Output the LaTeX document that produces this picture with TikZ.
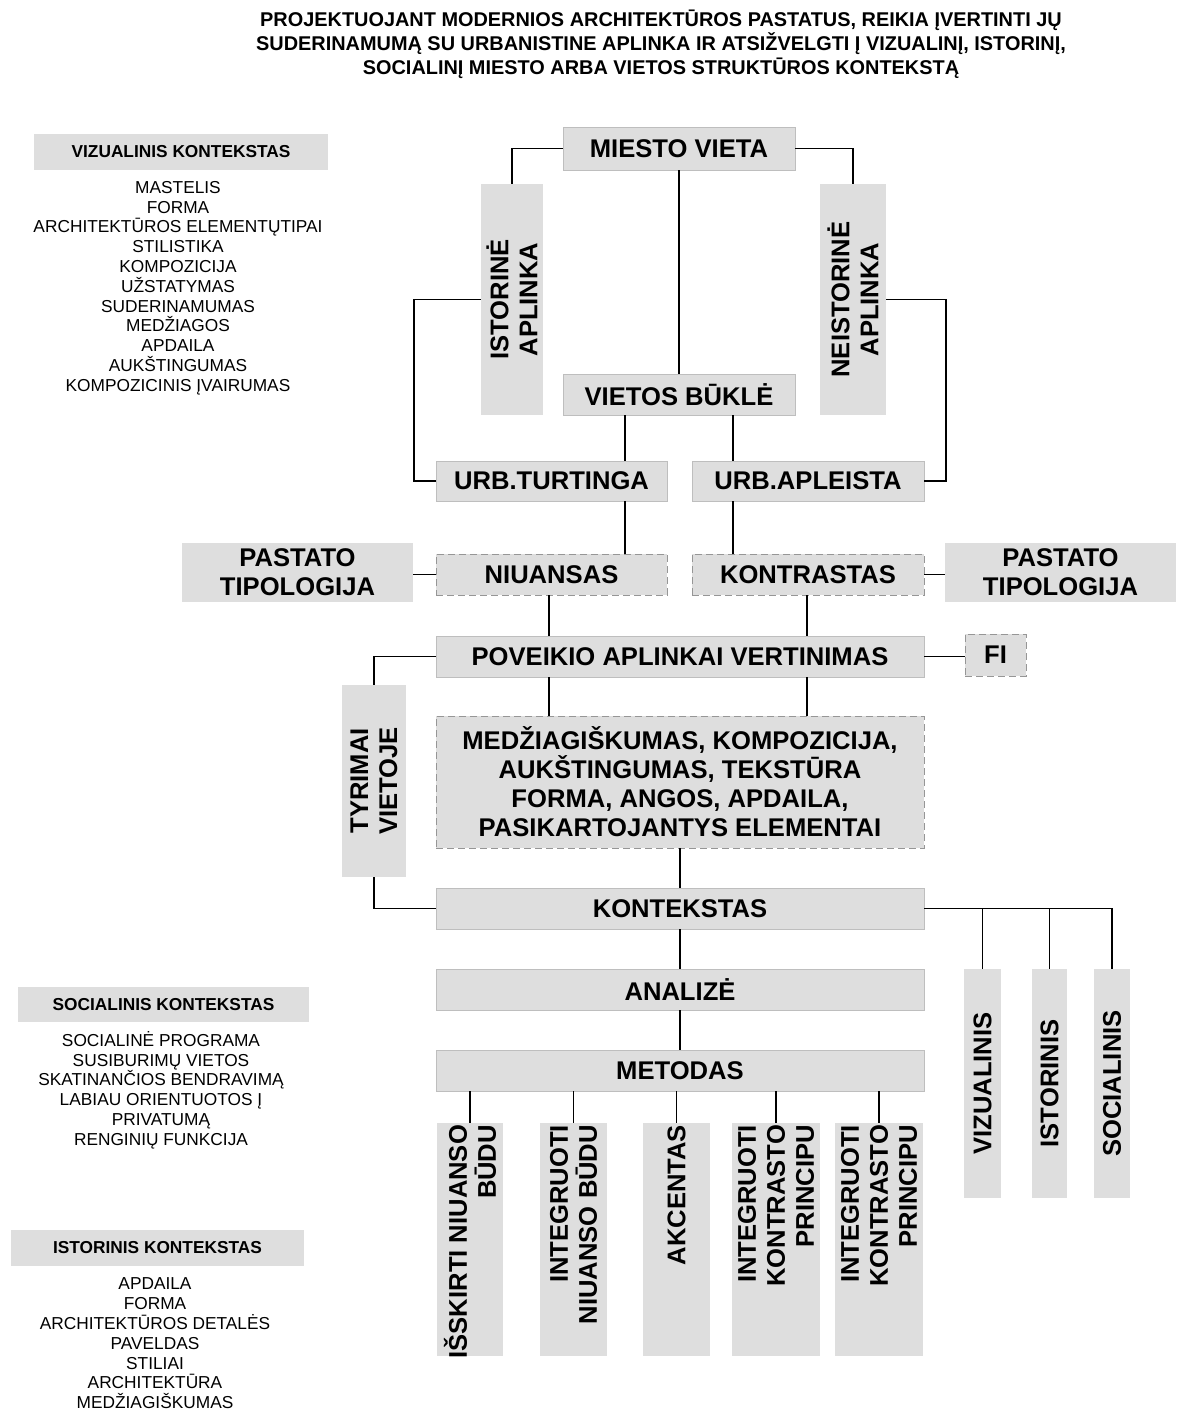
\documentclass[tikz,border=0pt]{standalone}
\usepackage{fontspec}
\setmainfont{Liberation Sans}
\definecolor{boxfill}{RGB}{222,222,222}
\definecolor{boxline}{RGB}{190,190,190}
\definecolor{dashline}{RGB}{150,150,150}
\newcommand\bxfont{\fontsize{25.6}{29}\selectfont\bfseries}
\newcommand\ttlfont{\fontsize{19.9}{24}\selectfont\bfseries}
\newcommand\lstfont{\fontsize{17.3}{19.8}\selectfont}
\newcommand\hdfont{\fontsize{17.3}{19}\selectfont\bfseries}
\begin{document}
\begin{tikzpicture}[x=1pt,y=-1pt,
  box/.style={draw=boxline, fill=boxfill, line width=0.8pt, inner sep=0pt, font=\bxfont, align=center},
  dbox/.style={box, draw=dashline, dash pattern=on 7pt off 4pt},
  gbox/.style={fill=boxfill, inner sep=0pt},
  vtext/.style={rotate=90, font=\bxfont, align=center, inner sep=0pt},
  htext/.style={font=\hdfont, inner sep=0pt},
  ltext/.style={font=\lstfont, align=center, inner sep=0pt},
  conn/.style={line width=1.9pt, black}]
\useasboundingbox (0,0) rectangle (1176,1412);
\fill[white] (0,0) rectangle (1176,1412);

% title
\node[font=\ttlfont, align=center, inner sep=0pt] (title) at (661,44)
  {PROJEKTUOJANT MODERNIOS ARCHITEKTŪROS PASTATUS, REIKIA ĮVERTINTI JŲ\\
   SUDERINAMUMĄ SU URBANISTINE APLINKA IR ATSIŽVELGTI Į VIZUALINĮ, ISTORINĮ,\\
   SOCIALINĮ MIESTO ARBA VIETOS STRUKTŪROS KONTEKSTĄ};

% left context blocks
\node[gbox, minimum width=294pt, minimum height=36pt] (vizh) at (181,152) {};
\node[htext] at (vizh) {VIZUALINIS KONTEKSTAS};
\node[ltext] (vizl) at (178,288) {MASTELIS\\FORMA\\ARCHITEKTŪROS ELEMENTŲTIPAI\\STILISTIKA\\KOMPOZICIJA\\UŽSTATYMAS\\SUDERINAMUMAS\\MEDŽIAGOS\\APDAILA\\AUKŠTINGUMAS\\KOMPOZICINIS ĮVAIRUMAS};

\node[gbox, minimum width=291pt, minimum height=35pt] (soch) at (163.5,1004.5) {};
\node[htext] at (soch) {SOCIALINIS KONTEKSTAS};
\node[ltext] (socl) at (161,1090) {SOCIALINĖ PROGRAMA\\SUSIBURIMŲ VIETOS\\SKATINANČIOS BENDRAVIMĄ\\LABIAU ORIENTUOTOS Į\\PRIVATUMĄ\\RENGINIŲ FUNKCIJA};

\node[gbox, minimum width=293pt, minimum height=36pt] (isth) at (157.5,1248) {};
\node[htext] at (isth) {ISTORINIS KONTEKSTAS};
\node[ltext] (istl) at (155,1343.5) {APDAILA\\FORMA\\ARCHITEKTŪROS DETALĖS\\PAVELDAS\\STILIAI\\ARCHITEKTŪRA\\MEDŽIAGIŠKUMAS};

% main boxes
\node[box, minimum width=232pt, minimum height=43pt] (mv) at (679,148.5) {MIESTO VIETA};
\node[gbox, minimum width=62pt, minimum height=231pt] (ist) at (512,299.5) {};
\node[vtext] at (ist) {ISTORINĖ\\APLINKA};
\node[gbox, minimum width=66pt, minimum height=231pt] (neist) at (853,299.5) {};
\node[vtext] at (neist) {NEISTORINĖ\\APLINKA};
\node[box, minimum width=232pt, minimum height=41pt] (vb) at (679,394.5) {VIETOS BŪKLĖ};
\node[box, minimum width=231pt, minimum height=40pt] (ut) at (551.5,481) {URB.TURTINGA};
\node[box, minimum width=232pt, minimum height=40pt] (ua) at (808,481) {URB.APLEISTA};
\node[gbox, font=\bxfont, align=center, minimum width=231pt, minimum height=59pt] (ptl) at (297.5,572.5) {PASTATO\\TIPOLOGIJA};
\node[dbox, minimum width=231pt, minimum height=41pt] (niu) at (551.5,574.5) {NIUANSAS};
\node[dbox, minimum width=232pt, minimum height=41pt] (kon) at (808,574.5) {KONTRASTAS};
\node[gbox, font=\bxfont, align=center, minimum width=231pt, minimum height=59pt] (ptr) at (1060.5,572.5) {PASTATO\\TIPOLOGIJA};
\node[box, minimum width=488pt, minimum height=41pt] (pav) at (680,656.5) {POVEIKIO APLINKAI VERTINIMAS};
\node[dbox, minimum width=61pt, minimum height=42pt] (fi) at (995.5,655) {FI};
\node[gbox, minimum width=64pt, minimum height=192pt] (tyr) at (374,781) {};
\node[vtext] at (tyr) {TYRIMAI\\VIETOJE};
\node[dbox, minimum width=488pt, minimum height=132pt] (med) at (680,782)
  {MEDŽIAGIŠKUMAS, KOMPOZICIJA,\\AUKŠTINGUMAS, TEKSTŪRA\\FORMA, ANGOS, APDAILA,\\PASIKARTOJANTYS ELEMENTAI};
\node[box, minimum width=488pt, minimum height=41pt] (ktx) at (680,908.5) {KONTEKSTAS};
\node[box, minimum width=488pt, minimum height=41pt] (anl) at (680,989.5) {ANALIZĖ};
\node[box, minimum width=488pt, minimum height=41pt] (met) at (680,1070.5) {METODAS};

\node[gbox, minimum width=37pt, minimum height=229pt] (viz) at (982.5,1083.5) {};
\node[vtext] at (viz) {VIZUALINIS};
\node[gbox, minimum width=35pt, minimum height=229pt] (ists) at (1049.5,1083.5) {};
\node[vtext] at (ists) {ISTORINIS};
\node[gbox, minimum width=36pt, minimum height=229pt] (soc) at (1112,1083.5) {};
\node[vtext] at (soc) {SOCIALINIS};

\node[gbox, minimum width=66pt, minimum height=233pt] (b1) at (470,1239.5) {};
\node[vtext, anchor=east, align=right] at ([yshift=-2pt]b1.north) {IŠSKIRTI NIUANSO\\BŪDU};
\node[gbox, minimum width=67pt, minimum height=233pt] (b2) at (573.5,1239.5) {};
\node[vtext, anchor=east, align=right] at ([yshift=-2pt]b2.north) {INTEGRUOTI\\NIUANSO BŪDU};
\node[gbox, minimum width=67pt, minimum height=233pt] (b3) at (676.5,1239.5) {};
\node[vtext, anchor=east, align=right] at ([yshift=-2pt]b3.north) {AKCENTAS};
\node[gbox, minimum width=88pt, minimum height=233pt] (b4) at (776,1239.5) {};
\node[vtext, anchor=east, align=right] at ([yshift=-2pt]b4.north) {INTEGRUOTI\\KONTRASTO\\PRINCIPU};
\node[gbox, minimum width=88pt, minimum height=233pt] (b5) at (879,1239.5) {};
\node[vtext, anchor=east, align=right] at ([yshift=-2pt]b5.north) {INTEGRUOTI\\KONTRASTO\\PRINCIPU};

% connectors
\draw[conn] (mv.west) -| (ist.north);
\draw[conn] (mv.east) -| (neist.north);
\draw[conn] (mv.south) -- (vb.north);
\draw[conn] (ist.west) -| (414,481) -- (ut.west);
\draw[conn] (neist.east) -| (946,481) -- (ua.east);
\draw[conn] (vb.south -| 625,0) -- (ut.north -| 625,0);
\draw[conn] (vb.south -| 733,0) -- (ua.north -| 733,0);
\draw[conn] (ut.south -| 625,0) -- (niu.north -| 625,0);
\draw[conn] (ua.south -| 733,0) -- (kon.north -| 733,0);
\draw[conn] (ptl.east |- niu.west) -- (niu.west);
\draw[conn] (kon.east) -- (kon.east -| ptr.west);
\draw[conn] (niu.south -| 549,0) -- (pav.north -| 549,0);
\draw[conn] (kon.south -| 807,0) -- (pav.north -| 807,0);
\draw[conn] (pav.west) -| (tyr.north);
\draw[conn] (pav.east) -- (pav.east -| fi.west);
\draw[conn] (pav.south -| 549,0) -- (med.north -| 549,0);
\draw[conn] (pav.south -| 807,0) -- (med.north -| 807,0);
\draw[conn] (med.south) -- (ktx.north);
\draw[conn] (tyr.south) |- (ktx.west);
\draw[conn] (ktx.east) -| (soc.north);
\draw[conn] (ktx.east -| viz.north) -- (viz.north);
\draw[conn] (ktx.east -| ists.north) -- (ists.north);
\draw[conn] (ktx.south) -- (anl.north);
\draw[conn] (anl.south) -- (met.north);
\draw[conn] (met.south -| b1.north) -- (b1.north);
\draw[conn] (met.south -| b2.north) -- (b2.north);
\draw[conn] (met.south -| b3.north) -- (b3.north);
\draw[conn] (met.south -| b4.north) -- (b4.north);
\draw[conn] (met.south -| b5.north) -- (b5.north);
\end{tikzpicture}
\end{document}
